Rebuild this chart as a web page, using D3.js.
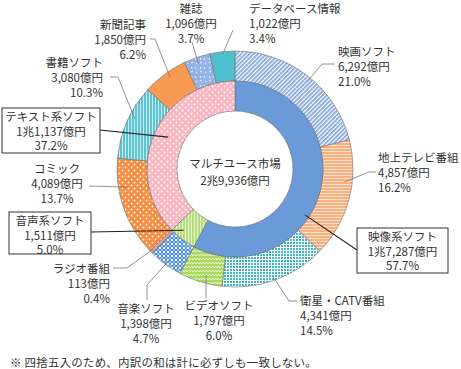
<!DOCTYPE html>
<html><head><meta charset="utf-8">
<script src="https://cdn.jsdelivr.net/npm/d3@7"></script>
<style>
html,body{margin:0;padding:0;background:#fff;}
text{font-family:"Noto Sans CJK JP","Noto Sans",sans-serif;fill:#333;}
</style></head>
<body><div id="chart"></div>
<script>
// ---- data ----
const innerCategories = ["映像系ソフト", "音声系ソフト", "テキスト系ソフト"];
const innerValues = [17287, 1511, 11137];
const innerShares = ["57.7%", "5.0%", "37.2%"];
const outerCategories = ["映画ソフト", "地上テレビ番組", "衛星・CATV番組", "ビデオソフト", "音楽ソフト", "ラジオ番組", "コミック", "書籍ソフト", "新聞記事", "雑誌", "データベース情報"];
const outerValues = [6292, 4857, 4341, 1797, 1398, 113, 4089, 3080, 1850, 1096, 1022];
const outerShares = ["21.0%", "16.2%", "14.5%", "6.0%", "4.7%", "0.4%", "13.7%", "10.3%", "6.2%", "3.7%", "3.4%"];
const totalLabel = "マルチユース市場";
const totalValue = 29936;
const footnote = "※  四捨五入のため、内訳の和は計に必ずしも一致しない。";

// ---- layout ----
const W = 461, H = 369;
const cx = 235, cy = 169;
const rHole = 58, rMid = 88, rOut = 118;
const FS = 11.5;

const svg = d3.select("#chart").append("svg").attr("width", W).attr("height", H);
const defs = svg.append("defs");

function pat(id, w, h, bg, draw, transform) {
  const p = defs.append("pattern").attr("id", id).attr("patternUnits", "userSpaceOnUse")
    .attr("width", w).attr("height", h);
  if (transform) p.attr("patternTransform", transform);
  p.append("rect").attr("width", w).attr("height", h).attr("fill", bg);
  draw(p);
  return "url(#" + id + ")";
}
const fills = {};
fills["映画ソフト"] = pat("p0", 3, 3, "#ffffff", p => p.append("rect").attr("x", 0).attr("y", 0).attr("width", 1.7).attr("height", 3).attr("fill", "#7fa3dc"), "rotate(45)");
fills["地上テレビ番組"] = pat("p1", 3, 3, "#f9b27f", p => p.append("rect").attr("x", 0).attr("y", 0).attr("width", 3).attr("height", 1).attr("fill", "#fde3cf"));
fills["衛星・CATV番組"] = pat("p2", 3, 3, "#3db8c8", p => {
  p.append("rect").attr("x", 0).attr("y", 0).attr("width", 3).attr("height", 1).attr("fill", "#fff");
  p.append("rect").attr("x", 0).attr("y", 0).attr("width", 1).attr("height", 3).attr("fill", "#fff");
});
fills["ビデオソフト"] = pat("p3", 6, 4, "#a9d95e", p => p.append("path").attr("d", "M0,3 L1.5,1 L3,3 L4.5,1 L6,3").attr("fill", "none").attr("stroke", "#eef8dc").attr("stroke-width", 0.9));
fills["音楽ソフト"] = pat("p4", 4, 4, "#ffffff", p => {
  p.append("rect").attr("x", 0).attr("y", 0).attr("width", 2).attr("height", 2).attr("fill", "#4a8fe0");
  p.append("rect").attr("x", 2).attr("y", 2).attr("width", 2).attr("height", 2).attr("fill", "#4a8fe0");
  p.append("rect").attr("x", 2).attr("y", 0).attr("width", 2).attr("height", 2).attr("fill", "#9cc2f0");
});
fills["ラジオ番組"] = "#f2a4a2";
fills["コミック"] = pat("p6", 6, 6, "#f68d40", p => {
  p.append("circle").attr("cx", 1.5).attr("cy", 1.5).attr("r", 0.9).attr("fill", "#fff");
  p.append("circle").attr("cx", 4.5).attr("cy", 4.5).attr("r", 0.9).attr("fill", "#fff");
});
fills["書籍ソフト"] = pat("p7", 3, 3, "#5cc3d2", p => p.append("rect").attr("x", 1).attr("y", 0).attr("width", 0.9).attr("height", 3).attr("fill", "#d9f1f5"));
fills["新聞記事"] = "#f89a52";
fills["雑誌"] = pat("p9", 9, 9, "#93b3e6", p => {
  p.append("path").attr("d", "M1,2 L3,1 M5,6 L6,8 M6,2 L7.5,3 M1.5,6 L2,8").attr("stroke", "#fff").attr("stroke-width", 0.9);
});
fills["データベース情報"] = "#4ebfcc";
fills["映像系ソフト"] = "#6a9bd8";
fills["音声系ソフト"] = pat("pa", 3, 3, "#b7dd7c", p => p.append("rect").attr("x", 1).attr("y", 0).attr("width", 0.9).attr("height", 3).attr("fill", "#e8f5d3"));
fills["テキスト系ソフト"] = pat("pb", 6, 6, "#fbb6c1", p => {
  p.append("circle").attr("cx", 1.5).attr("cy", 1.5).attr("r", 0.95).attr("fill", "#fff");
  p.append("circle").attr("cx", 4.5).attr("cy", 4.5).attr("r", 0.95).attr("fill", "#fff");
});

const pie = d3.pie().sort(null).value(d => d.value).startAngle(0).endAngle(2 * Math.PI);
const innerData = pie(innerCategories.map((c, i) => ({ name: c, value: innerValues[i], share: innerShares[i] })));
const outerData = pie(outerCategories.map((c, i) => ({ name: c, value: outerValues[i], share: outerShares[i] })));

const arcInner = d3.arc().innerRadius(rHole).outerRadius(rMid);
const arcOuter = d3.arc().innerRadius(rMid).outerRadius(rOut);

const g = svg.append("g").attr("transform", `translate(${cx},${cy})`);
g.selectAll("path.outer").data(outerData).join("path").attr("class", "outer")
  .attr("d", arcOuter).attr("fill", d => fills[d.data.name]).attr("stroke", "#6d6d6d").attr("stroke-width", 0.6);
g.selectAll("path.inner").data(innerData).join("path").attr("class", "inner")
  .attr("d", arcInner).attr("fill", d => fills[d.data.name]).attr("stroke", "#6d6d6d").attr("stroke-width", 0.6);

function fmtOku(v) {
  const cho = Math.floor(v / 10000), rest = v % 10000;
  return (cho > 0 ? cho + "兆" : "") + d3.format(",")(rest) + "億円";
}

// label layout: text x, first line y, anchor, leader points (label side), leader end angle (deg), radius
const outerLayout = {
  "映画ソフト":     { x: 338, y: 51, a: "start",  pts: [[335, 64], [322, 64]], ang: 39.6, r: 113 },
  "地上テレビ番組": { x: 378, y: 157, a: "start", pts: [[376, 172], [369, 172]], ang: 96.8, r: 110 },
  "衛星・CATV番組": { x: 300, y: 300, a: "start", pts: [[297, 301], [289, 301]], ang: 160.6, r: 114 },
  "ビデオソフト":   { x: 219, y: 305, a: "middle", pts: [[206, 298]], ang: 195.3, r: 110 },
  "音楽ソフト":     { x: 146, y: 308, a: "middle", pts: [[147, 300], [147, 285]], ang: 215.8, r: 111 },
  "ラジオ番組":     { x: 110, y: 268, a: "end",   pts: [[113, 268], [127, 268]], ang: 225.6, r: 114 },
  "コミック":       { x: 57, y: 168, a: "middle", pts: [[89, 186]], ang: 260.5, r: 109.5 },
  "書籍ソフト":     { x: 103, y: 62, a: "end",    pts: [[110, 77], [118, 77]], ang: 296.6, r: 112 },
  "新聞記事":       { x: 146, y: 24, a: "end",    pts: [[150, 39], [155, 39]], ang: 324.8, r: 112.6 },
  "雑誌":           { x: 191, y: 8, a: "middle",  pts: [[192, 42]], ang: 340.8, r: 112 },
  "データベース情報": { x: 249, y: 8, a: "start", pts: [[233, 30]], ang: 354, r: 116 }
};
const innerLayout = {
  "映像系ソフト":     { box: [357, 228, 91, 45], pts: [[357, 250]], ang: 123.3, r: 84 },
  "音声系ソフト":     { box: [9, 212, 82, 42], pts: [[91, 232]], ang: 220, r: 80 },
  "テキスト系ソフト": { box: [2, 108, 98, 45], pts: [[100, 130]], ang: 295.5, r: 74 }
};

const polar = (ang, r) => [cx + r * Math.sin(ang * Math.PI / 180), cy - r * Math.cos(ang * Math.PI / 180)];
const line = d3.line();
const lab = svg.append("g").attr("font-size", FS);

outerData.forEach(d => {
  const L = outerLayout[d.data.name];
  const pts = L.pts.concat([polar(L.ang, L.r)]);
  lab.append("path").attr("d", line(pts)).attr("fill", "none").attr("stroke", "#777").attr("stroke-width", 0.8);
  [d.data.name, fmtOku(d.data.value), d.data.share].forEach((t, i) => {
    lab.append("text").attr("x", L.x).attr("y", L.y + i * 15).attr("text-anchor", L.a)
      .attr("dominant-baseline", "central").text(t);
  });
});
innerData.forEach(d => {
  const L = innerLayout[d.data.name];
  const pts = L.pts.concat([polar(L.ang, L.r)]);
  lab.append("path").attr("d", line(pts)).attr("fill", "none").attr("stroke", "#222").attr("stroke-width", 1.1);
  const [bx, by, bw, bh] = L.box;
  lab.append("rect").attr("x", bx).attr("y", by).attr("width", bw).attr("height", bh)
    .attr("fill", "#fff").attr("stroke", "#333").attr("stroke-width", 1);
  [d.data.name, fmtOku(d.data.value), d.data.share].forEach((t, i) => {
    lab.append("text").attr("x", bx + bw / 2).attr("y", by + 8 + i * 14.5).attr("text-anchor", "middle")
      .attr("dominant-baseline", "central").text(t);
  });
});

svg.append("text").attr("x", cx).attr("y", cy - 6).attr("text-anchor", "middle").attr("dominant-baseline", "central")
  .attr("font-size", FS).text(totalLabel);
svg.append("text").attr("x", cx).attr("y", cy + 11).attr("text-anchor", "middle").attr("dominant-baseline", "central")
  .attr("font-size", FS).text(fmtOku(totalValue));
svg.append("text").attr("x", 10).attr("y", 362).attr("dominant-baseline", "central")
  .attr("font-size", 11.5).attr("letter-spacing", 0.2).text(footnote);
</script></body></html>
